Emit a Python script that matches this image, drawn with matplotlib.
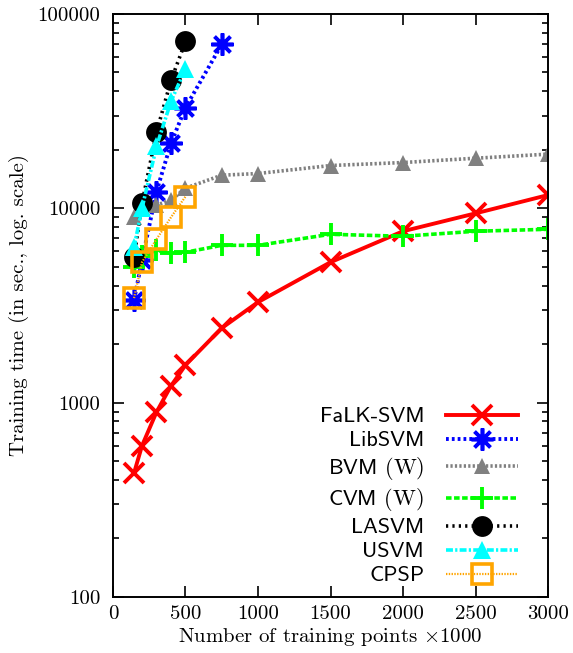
import matplotlib
matplotlib.use("Agg")
import matplotlib.pyplot as plt
from matplotlib.ticker import FixedLocator, FixedFormatter, LogLocator, NullFormatter

plt.rcParams["font.family"] = "cmr10"
plt.rcParams["mathtext.fontset"] = "cm"
plt.rcParams["axes.unicode_minus"] = False
plt.rcParams["lines.scale_dashes"] = False

# training set sizes (x1000) and training times in seconds
n_points = [145, 200, 300, 400, 500, 750, 1000, 1500, 2000, 2500, 3000]

falk_svm = [434, 600, 894, 1220, 1560, 2420, 3290, 5280, 7620, 9420, 11700]
lib_svm = [3370, 5400, 12200, 21600, 33000, 69700]
bvm = [8990, 10100, 10400, 11000, 12700, 14800, 15100, 16600, 17200, 18100, 19000]
cvm = [4970, 5700, 6080, 5870, 5940, 6450, 6450, 7350, 7180, 7620, 7800]
la_svm = [5600, 10600, 24600, 45500, 72200]
u_svm = [6300, 10000, 20800, 35500, 52400]
cpsp = [3450, 5280, 6930, 8990, 11500]

x_ticks = [0, 500, 1000, 1500, 2000, 2500, 3000]
y_ticks = [100, 1000, 10000, 100000]

fig = plt.figure(figsize=(5.73, 6.53), dpi=100)
ax = fig.add_axes([0.1972, 0.0858, 0.7592, 0.8928])

ax.plot(n_points, falk_svm, color="#ff0000", lw=2.8, ls="-",
        marker="x", ms=14, mew=2.8, label="FaLK-SVM")
ax.plot(n_points[:len(lib_svm)], lib_svm, color="#0000ff", lw=2.8, dashes=(2, 2.2),
        marker=(8, 2, 0), ms=16, mew=2.6, label="LibSVM")
ax.plot(n_points, bvm, color="#808080", lw=2.6, dashes=(1.6, 1.6),
        marker="^", ms=11, mew=0, label=r"BVM $\mathrm{(W)}$")
ax.plot(n_points, cvm, color="#00ff00", lw=2.6, dashes=(4, 1.8),
        marker="+", ms=16, mew=2.8, label=r"CVM $\mathrm{(W)}$")
ax.plot(n_points[:len(la_svm)], la_svm, color="black", lw=2.6, dashes=(1.6, 3),
        marker="o", ms=15, mew=0, label="LASVM")
ax.plot(n_points[:len(u_svm)], u_svm, color="#00ffff", lw=2.6, dashes=(5, 1.6, 1.6, 1.6),
        marker="^", ms=13, mew=0, label="USVM")
ax.plot(n_points[:len(cpsp)], cpsp, color="#ffa500", lw=1.6, dashes=(1, 1),
        marker="s", ms=14, mew=2.6, mfc="none", label="CPSP")

ax.set_yscale("log")
ax.set_xlim(0, 3000)
ax.set_ylim(100, 100000)

ax.xaxis.set_major_locator(FixedLocator(x_ticks))
ax.xaxis.set_major_formatter(FixedFormatter([str(t) for t in x_ticks]))
ax.yaxis.set_major_locator(FixedLocator(y_ticks))
ax.yaxis.set_major_formatter(FixedFormatter([str(t) for t in y_ticks]))
ax.yaxis.set_minor_locator(LogLocator(base=10, subs=range(2, 10)))
ax.yaxis.set_minor_formatter(NullFormatter())

ax.tick_params(which="both", direction="in", top=True, right=True,
               labelsize=15, width=1.2)
ax.tick_params(axis="x", pad=6)
ax.tick_params(axis="y", pad=9)
ax.tick_params(which="major", length=8)
ax.tick_params(which="minor", length=4)
for sp in ax.spines.values():
    sp.set_linewidth(1.4)

ax.set_xlabel(r"Number of training points $\times$1000", fontsize=15, labelpad=2)
ax.set_ylabel("Training time (in sec., log. scale)", fontsize=15, labelpad=6)

leg = ax.legend(loc="lower right", bbox_to_anchor=(0.93, 0.02), frameon=False,
                markerfirst=False, numpoints=1, handlelength=3.2,
                handletextpad=1.0, labelspacing=0.2, borderpad=0,
                borderaxespad=0, prop={"family": "cmss10", "size": 16})

fig.savefig("out.png", dpi=100)
